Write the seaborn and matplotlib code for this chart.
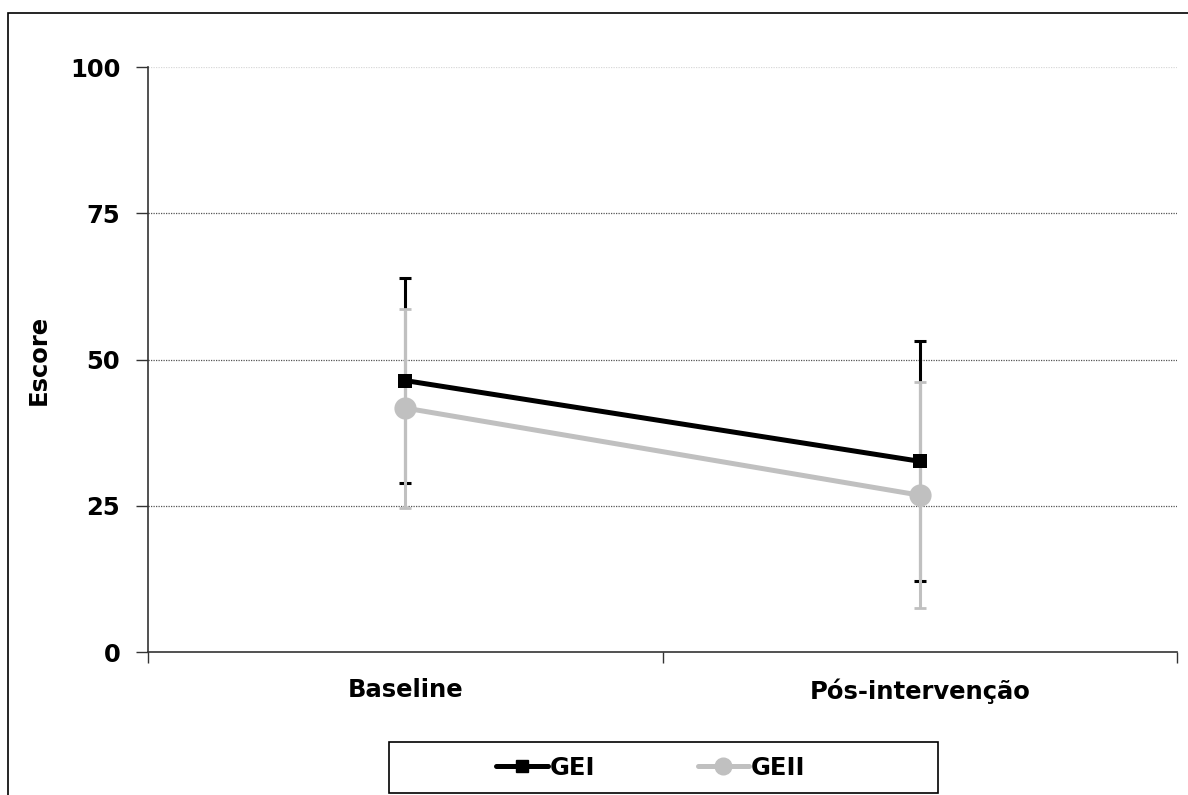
import numpy as np
import pandas as pd
import matplotlib.pyplot as plt
import seaborn as sns
from matplotlib.lines import Line2D
from matplotlib.patches import Rectangle

# Data
momentos = ["Baseline", "Pós-intervenção"]
gei_media = [46.4, 32.6]
gei_dp = [17.5, 20.5]
geii_media = [41.7, 26.8]
geii_dp = [17.0, 19.3]
y_ticks = [0, 25, 50, 75, 100]

sns.set_style("white")
plt.rcParams['font.family'] = ['DejaVu Sans']
plt.rcParams['font.weight'] = 'bold'
plt.rcParams['text.color'] = 'black'
plt.rcParams['xtick.color'] = 'black'
plt.rcParams['ytick.color'] = 'black'
plt.rcParams['axes.labelcolor'] = 'black'
FS = 17.5

pos = np.arange(len(momentos))
df = pd.DataFrame({
    "pos": np.concatenate([pos, pos]),
    "escore": gei_media + geii_media,
    "grupo": ["GEI"] * len(pos) + ["GEII"] * len(pos),
})

fig = plt.figure(figsize=(11.88, 7.95), dpi=100)
ax = fig.add_axes([148 / 1188, 1 - 652 / 795, (1177 - 148) / 1188, (652 - 67) / 795])

# frame around the chart area
fig.patches.append(Rectangle((8 / 1188, -0.1), 1.2, 1.1 - 13 / 795, transform=fig.transFigure,
                             fill=False, edgecolor="#000000", linewidth=1.2, zorder=0))

# grid lines
for t in y_ticks[1:-1]:
    ax.axhline(t, color="#555555", linestyle=(0, (1, 1)), linewidth=0.9, zorder=0)
ax.axhline(100, color="#d8d8d8", linestyle=(0, (1, 1)), linewidth=0.9, zorder=0)

# error bars
ax.errorbar(pos, gei_media, yerr=gei_dp, fmt="none", ecolor="black", elinewidth=2.2,
            capsize=4.3, capthick=2.2, zorder=2)
ax.errorbar(pos, geii_media, yerr=geii_dp, fmt="none", ecolor="#c0c0c0", elinewidth=2.2,
            capsize=4.3, capthick=2.0, zorder=3)

sns.lineplot(data=df[df.grupo == "GEII"], x="pos", y="escore", color="#c0c0c0",
             marker="o", markersize=16, markeredgewidth=0, linewidth=3.6, ax=ax, zorder=4)
sns.lineplot(data=df[df.grupo == "GEI"], x="pos", y="escore", color="black",
             marker="s", markersize=10.5, markeredgewidth=0, linewidth=3.6, ax=ax, zorder=5)

ax.set_xlim(-0.5, len(momentos) - 0.5)
ax.set_ylim(0, 100)
ax.set_yticks(y_ticks)
ax.set_yticklabels([str(t) for t in y_ticks], fontsize=FS, fontweight="bold")
ax.set_xticks(np.arange(len(momentos) + 1) - 0.5)
ax.set_xticklabels([])
ax.set_xticks(pos, minor=True)
ax.set_xticklabels(momentos, minor=True, fontsize=FS, fontweight="bold")
ax.tick_params(axis="x", which="major", bottom=True, direction="out", length=8, width=1,
               color="#333333")
ax.tick_params(axis="x", which="minor", bottom=True, length=0, pad=19)
ax.tick_params(axis="y", left=True, direction="out", length=9, width=1, color="#333333",
               pad=11)

for s in ["top", "right"]:
    ax.spines[s].set_visible(False)
for s in ["left", "bottom"]:
    ax.spines[s].set_color("#333333")
    ax.spines[s].set_linewidth(1.2)

ax.set_xlabel("")
ax.set_ylabel("Escore", fontsize=FS, fontweight="bold", labelpad=14)

# legend box
fig.patches.append(Rectangle((389 / 1188, 1 - 793 / 795), (938 - 389) / 1188, 51 / 795,
                             transform=fig.transFigure, fill=False, edgecolor="black",
                             linewidth=1.2, zorder=5))
handles = [
    Line2D([], [], color="black", marker="s", markersize=9, linewidth=3.6),
    Line2D([], [], color="#c0c0c0", marker="o", markersize=12, linewidth=3.6),
]
fig.legend(handles, ["GEI", "GEII"], ncol=2, loc="center",
           bbox_to_anchor=(651 / 1188, 1 - 768 / 795), frameon=False,
           prop={"size": FS, "weight": "bold"}, handlelength=2.1, handletextpad=0.1,
           columnspacing=4.2)

fig.savefig("out.png", dpi=100)
